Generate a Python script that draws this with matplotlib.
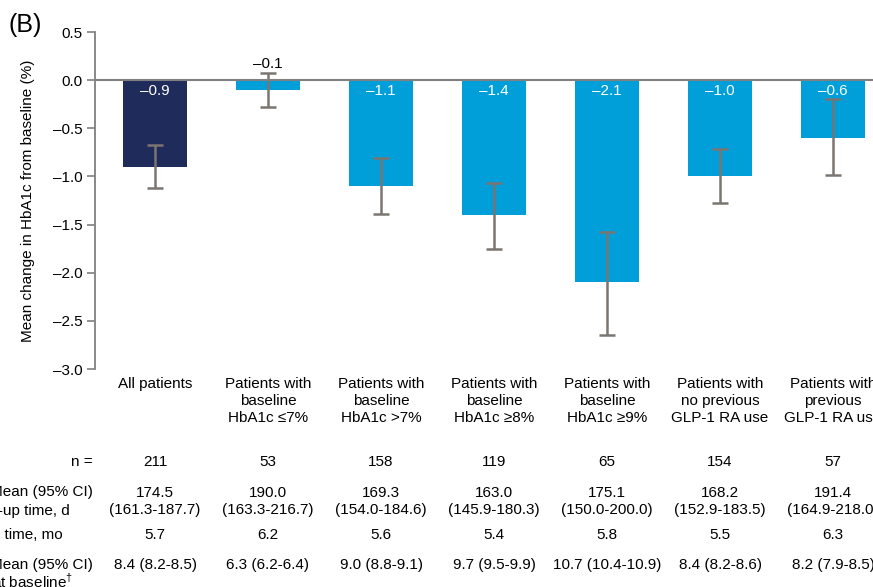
import matplotlib
matplotlib.use("Agg")
import matplotlib.pyplot as plt
import matplotlib.transforms as mtransforms
from matplotlib.ticker import FuncFormatter

plt.rcParams['font.family'] = ['Liberation Sans', 'DejaVu Sans']
plt.rcParams['font.size'] = 11
plt.rcParams['mathtext.fontset'] = 'custom'
plt.rcParams['mathtext.rm'] = 'Liberation Sans'

# HbA1c change by subgroup
groups = ["All patients",
          "Patients with\nbaseline\nHbA1c \u22647%",
          "Patients with\nbaseline\nHbA1c >7%",
          "Patients with\nbaseline\nHbA1c \u22658%",
          "Patients with\nbaseline\nHbA1c \u22659%",
          "Patients with\nno previous\nGLP-1 RA use",
          "Patients with\nprevious\nGLP-1 RA use"]
change = [-0.9, -0.1, -1.1, -1.4, -2.1, -1.0, -0.6]
ci_low = [-1.12, -0.28, -1.39, -1.75, -2.65, -1.28, -0.98]
ci_high = [-0.67, 0.07, -0.81, -1.07, -1.58, -0.72, -0.20]

n_pts = ["211", "53", "158", "119", "65", "154", "57"]
fu_days = ["174.5\n(161.3-187.7)", "190.0\n(163.3-216.7)", "169.3\n(154.0-184.6)",
           "163.0\n(145.9-180.3)", "175.1\n(150.0-200.0)", "168.2\n(152.9-183.5)",
           "191.4\n(164.9-218.0)"]
fu_months = ["5.7", "6.2", "5.6", "5.4", "5.8", "5.5", "6.3"]
hba1c_base = ["8.4 (8.2-8.5)", "6.3 (6.2-6.4)", "9.0 (8.8-9.1)", "9.7 (9.5-9.9)",
              "10.7 (10.4-10.9)", "8.4 (8.2-8.6)", "8.2 (7.9-8.5)"]

navy = "#1f2b5b"
cyan = "#009fda"
grey = "#7a7570"
colors = [navy] + [cyan] * 6

W, H = 873, 587
fig = plt.figure(figsize=(W / 100, H / 100), dpi=100)
ax = fig.add_axes([95 / W, 1 - 369 / H, 1 - 95 / W, (369 - 32) / H])

x = list(range(len(change)))
ax.bar(x, change, width=0.575, color=colors, zorder=2)
yerr = [[c - lo for c, lo in zip(change, ci_low)], [hi - c for c, hi in zip(change, ci_high)]]
ax.errorbar(x, change, yerr=yerr, fmt='none', ecolor=grey, elinewidth=1.8,
            capsize=5.5, capthick=1.8, zorder=3)
ax.axhline(0, color="#808080", lw=1.5, zorder=4)

for xi, v, hi in zip(x, change, ci_high):
    lab = f"{v:.1f}".replace("-", "\u2013")
    if abs(v) < 0.3:
        ax.annotate(lab, (xi, hi), xytext=(0, 2), textcoords='offset points',
                    ha='center', va='bottom', color='black', zorder=5)
    else:
        ax.annotate(lab, (xi, 0), xytext=(0, -3), textcoords='offset points',
                    ha='center', va='top', color='white', zorder=5)

ax.set_xlim(-60 / 113, -60 / 113 + (W - 95) / 113)
ax.set_ylim(-3.0, 0.5)
ax.set_yticks([0.5, 0.0, -0.5, -1.0, -1.5, -2.0, -2.5, -3.0])
ax.yaxis.set_major_formatter(FuncFormatter(lambda v, p: f"{v:.1f}".replace("-", "\u2013")))
ax.set_xticks([])
for s in ["top", "right", "bottom"]:
    ax.spines[s].set_visible(False)
ax.spines["left"].set_color("#808080")
ax.spines["left"].set_linewidth(1.3)
ax.tick_params(axis='y', colors="#808080", length=6, width=1.2, pad=3, labelcolor='black')
ax.set_ylabel("Mean change in HbA1c from baseline (%)")
ax.yaxis.set_label_coords(-60 / (W - 95), 0.5)

fig.text(8 / W, 1 - 25 / H, "(B)", fontsize=18, va='center', ha='left')

# table below the bars: x in data units, y in figure pixels
tr = mtransforms.blended_transform_factory(ax.transData, fig.transFigure)


def fy(py):
    return 1 - py / H


for xi, g in zip(x, groups):
    ax.text(xi, fy(377), g, transform=tr, ha='center', va='top', linespacing=1.25)
for xi, a, b, c, d in zip(x, n_pts, fu_days, fu_months, hba1c_base):
    ax.text(xi, fy(462), a, transform=tr, ha='center', va='center')
    ax.text(xi, fy(501.5), b, transform=tr, ha='center', va='center', linespacing=1.25)
    ax.text(xi, fy(535), c, transform=tr, ha='center', va='center')
    ax.text(xi, fy(565), d, transform=tr, ha='center', va='center')

# row labels, partly outside the figure on the left
row_labels = [(93, 462, "n ="), (93, 492, "Mean (95% CI)"), (70, 511, "follow-up time, d"),
              (63, 535, "Median follow-up time, mo"), (93, 565, "Mean (95% CI)"),
              (73, 581, "HbA1c at baseline$^{\u2020}$")]
for px, py, t in row_labels:
    fig.text(px / W, fy(py), t, ha='right', va='center')

fig.savefig("out.png", dpi=100)
